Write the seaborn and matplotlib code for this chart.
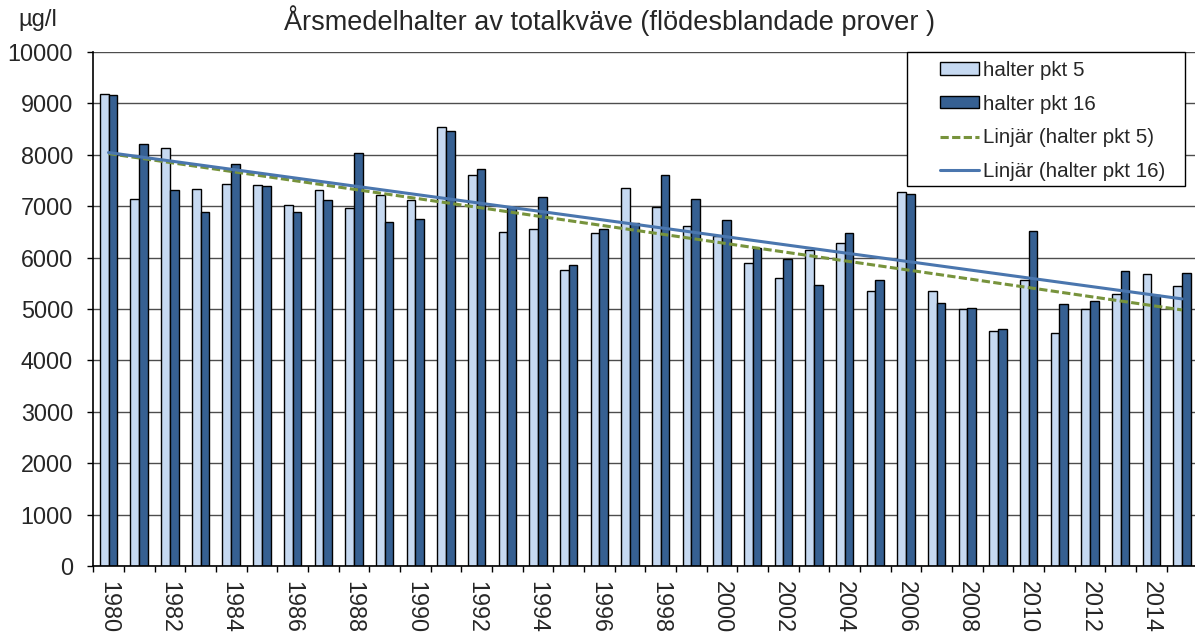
import numpy as np
import pandas as pd
import seaborn as sns
import matplotlib.pyplot as plt
from matplotlib.patches import Rectangle
from matplotlib.ticker import MultipleLocator, FixedLocator

years = list(range(1980, 2016))
pkt5 = [9180, 7150, 8130, 7330, 7440, 7420, 7030, 7310, 6970, 7220,
        7130, 8550, 7610, 6490, 6560, 5760, 6470, 7350, 6980, 6610,
        6420, 5900, 5600, 6150, 6290, 5360, 7270, 5360, 5000, 4570,
        5560, 4530, 5010, 5300, 5690, 5440]
pkt16 = [9170, 8210, 7320, 6880, 7820, 7390, 6880, 7120, 8035, 6690,
         6760, 8470, 7730, 6980, 7180, 5860, 6550, 6670, 7600, 7140,
         6730, 6190, 5980, 5470, 6470, 5560, 7240, 5120, 5025, 4620,
         6520, 5100, 5160, 5740, 5270, 5710]

label5 = "halter pkt 5"
label16 = "halter pkt 16"
trend5 = "Linjär (halter pkt 5)"
trend16 = "Linjär (halter pkt 16)"

df = pd.DataFrame({
    "year": [str(y) for y in years] * 2,
    "value": pkt5 + pkt16,
    "serie": [label5] * len(years) + [label16] * len(years),
})

sns.set_style("white")
plt.rcParams["font.family"] = ["Liberation Sans", "DejaVu Sans"]

fig = plt.figure(figsize=(11.95, 6.34), dpi=100)
ax = fig.add_axes([0.078, 0.107, 0.924, 0.811])

sns.barplot(data=df, x="year", y="value", hue="serie",
            palette=["#C6D9F1", "#366092"], width=0.57,
            edgecolor="black", linewidth=1.0, saturation=1, ax=ax)

# linear trend lines (Excel "Linjär")
idx = np.arange(len(years))
sns.regplot(x=idx, y=np.array(pkt5), scatter=False, ci=None, truncate=True,
            label=trend5, color="#77933C",
            line_kws=dict(lw=2.2, ls=(0, (2.7, 1.1))), ax=ax)
sns.regplot(x=idx, y=np.array(pkt16), scatter=False, ci=None, truncate=True,
            label=trend16, color="#4A76AE",
            line_kws=dict(lw=2.2), ax=ax)

ax.set_xlim(-0.5, len(years) - 0.5)
ax.set_ylim(0, 10000)
ax.yaxis.set_major_locator(MultipleLocator(1000))
ax.grid(axis="y", color="#4d4d4d", lw=1.0)
ax.set_axisbelow(True)

ax.set_xticks(idx[::2])
ax.set_xticklabels([str(y) for y in years[::2]], rotation=270, fontsize=16.8)
ax.xaxis.set_minor_locator(FixedLocator(np.arange(-0.5, len(years), 1)))
ax.tick_params(axis="x", which="major", length=0, pad=11)
ax.tick_params(axis="x", which="minor", length=4.5, width=1, color="black", bottom=True)
ax.tick_params(axis="y", labelsize=16.8, length=4.5, width=1, color="black", left=True, pad=10)

for s in ["top", "right"]:
    ax.spines[s].set_visible(False)
for s in ["left", "bottom"]:
    ax.spines[s].set_color("black")
    ax.spines[s].set_linewidth(1.2)

ax.set_xlabel("")
ax.set_ylabel("")

# legend box drawn separately so the entries can sit with Excel-like padding
ax.add_patch(Rectangle((0.737, 0.739), 0.252, 0.261, transform=ax.transAxes,
                       facecolor="white", edgecolor="black", lw=1.0, zorder=5,
                       clip_on=False))

h, l = ax.get_legend_handles_labels()
want = [label5, label16, trend5, trend16]
pairs = [(h[l.index(w)], w) for w in want if w in l]
leg = ax.legend([p[0] for p in pairs], [p[1] for p in pairs], loc="upper left",
                bbox_to_anchor=(0.767, 0.983), borderaxespad=0, borderpad=0,
                fontsize=14.8, frameon=False, handleheight=0.55,
                handlelength=1.9, handletextpad=0.2, labelspacing=0.72)
leg.set_zorder(6)

fig.text(0.51, 0.968, "Årsmedelhalter av totalkväve (flödesblandade prover )",
         ha="center", va="center", fontsize=19.5)
fig.text(0.015, 0.968, "µg/l", ha="left", va="center", fontsize=17)

fig.savefig("out.png", dpi=100)
